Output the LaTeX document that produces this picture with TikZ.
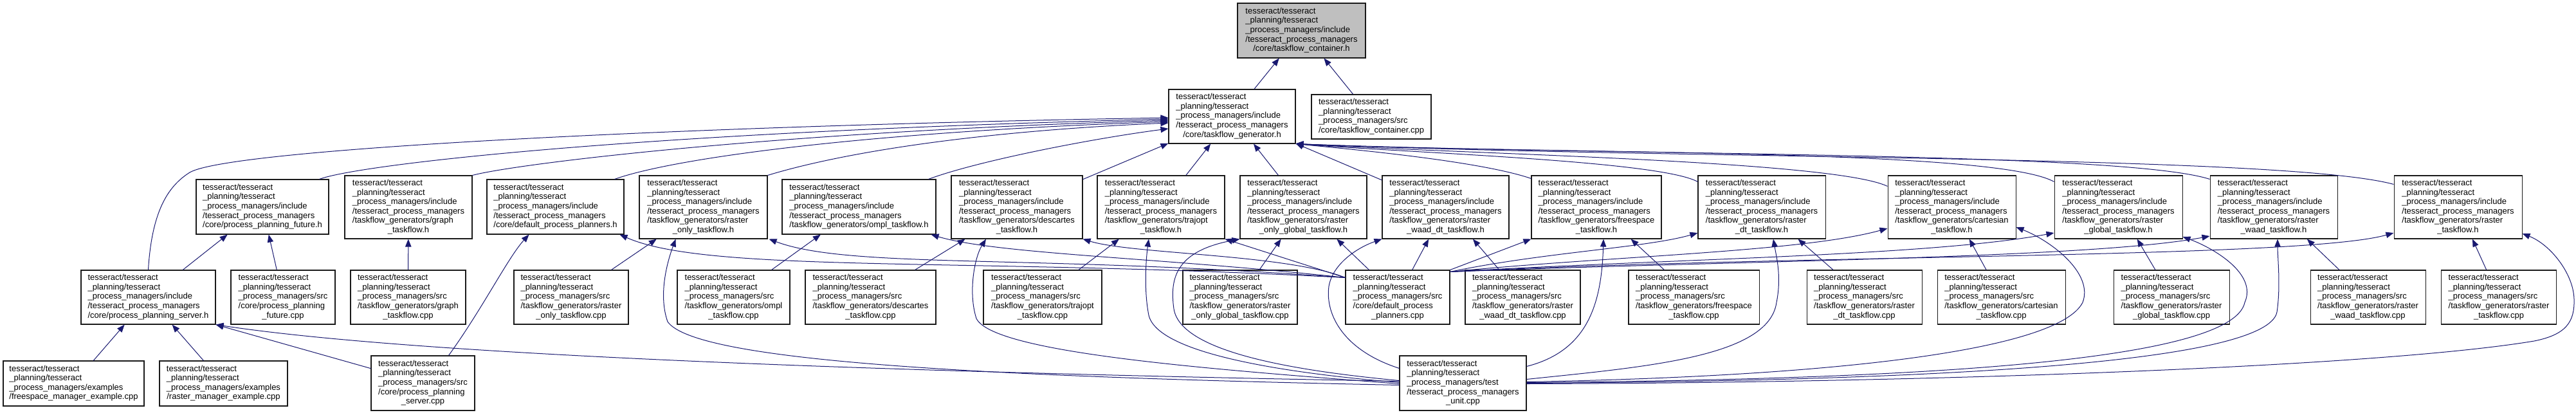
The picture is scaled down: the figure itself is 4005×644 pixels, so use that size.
\documentclass[tikz,border=0pt]{standalone}
\usepackage{fontspec}
\setmainfont{Liberation Sans}
\usetikzlibrary{arrows.meta,calc}
\definecolor{edgeblue}{HTML}{191970}
\definecolor{rootgray}{HTML}{BFBFBF}
\definecolor{boxline}{HTML}{1A1A1A}
\newcommand{\dxl}[2]{\begin{tabular}{@{}l@{}}#1\\\multicolumn{1}{@{}c@{}}{#2}\end{tabular}}
\newcommand{\dxinc}{tesseract/tesseract\\\_planning/tesseract\\\_process\_managers/include\\/tesseract\_process\_managers}
\newcommand{\dxsrc}{tesseract/tesseract\\\_planning/tesseract\\\_process\_managers/src}
\tikzset{
  dbox/.style={draw=boxline,line width=0.8pt,fill=white,inner sep=0pt,
    font={\fontsize{9.75pt}{10.95pt}\selectfont}},
  wh/.style 2 args={minimum width=#1*0.75pt,minimum height=#2*0.75pt},
  dep/.style={draw=edgeblue,line width=0.75pt,-{Triangle[length=9pt,width=7pt]}}
}
\begin{document}
\begin{tikzpicture}[x=0.75pt,y=-0.75pt]
\useasboundingbox (0,0) rectangle (4005,644);
% row 0 / 1
\node[dbox,fill=rootgray,wh={199}{85}] (root) at (2023.5,47.5) {\dxl{\dxinc}{/core/taskflow\_container.h}};
\node[dbox,wh={197}{84}] (tfg) at (1915.5,181) {\dxl{\dxinc}{/core/taskflow\_generator.h}};
\node[dbox,wh={186}{69}] (tfc) at (2132,181.5) {\dxl{\dxsrc}{/core/taskflow\_container.cpp}};
% row 2
\node[dbox,wh={206}{85}] (ppfh) at (408,321.5) {\dxl{\dxinc}{/core/process\_planning\_future.h}};
\node[dbox,wh={198}{98}] (graphh) at (635,322) {\dxl{\dxinc\\/taskflow\_generators/graph}{\_taskflow.h}};
\node[dbox,wh={213}{85}] (dpph) at (863.5,321.5) {\dxl{\dxinc}{/core/default\_process\_planners.h}};
\node[dbox,wh={199}{98}] (roh) at (1093.5,322) {\dxl{\dxinc\\/taskflow\_generators/raster}{\_only\_taskflow.h}};
\node[dbox,wh={239}{85}] (omplh) at (1335.5,321.5) {\dxl{\dxinc}{/taskflow\_generators/ompl\_taskflow.h}};
\node[dbox,wh={204}{98}] (desh) at (1581,322) {\dxl{\dxinc\\/taskflow\_generators/descartes}{\_taskflow.h}};
\node[dbox,wh={198}{98}] (trajh) at (1805,322) {\dxl{\dxinc\\/taskflow\_generators/trajopt}{\_taskflow.h}};
\node[dbox,wh={197}{98}] (rogh) at (2026.5,322) {\dxl{\dxinc\\/taskflow\_generators/raster}{\_only\_global\_taskflow.h}};
\node[dbox,wh={197}{98}] (rwdh) at (2247.5,322) {\dxl{\dxinc\\/taskflow\_generators/raster}{\_waad\_dt\_taskflow.h}};
\node[dbox,wh={202}{98}] (fsh) at (2482,322) {\dxl{\dxinc\\/taskflow\_generators/freespace}{\_taskflow.h}};
\node[dbox,wh={198}{98}] (rdth) at (2739,322) {\dxl{\dxinc\\/taskflow\_generators/raster}{\_dt\_taskflow.h}};
\node[dbox,wh={199}{98}] (carth) at (3034.5,322) {\dxl{\dxinc\\/taskflow\_generators/cartesian}{\_taskflow.h}};
\node[dbox,wh={199}{98}] (rgh) at (3293.5,322) {\dxl{\dxinc\\/taskflow\_generators/raster}{\_global\_taskflow.h}};
\node[dbox,wh={198}{98}] (rwh) at (3535,322) {\dxl{\dxinc\\/taskflow\_generators/raster}{\_waad\_taskflow.h}};
\node[dbox,wh={199}{98}] (rth) at (3821.5,322) {\dxl{\dxinc\\/taskflow\_generators/raster}{\_taskflow.h}};
% row 3
\node[dbox,wh={209}{84}] (ppsh) at (230.5,462) {\dxl{\dxinc}{/core/process\_planning\_server.h}};
\node[dbox,wh={162}{84}] (ppfc) at (440,462) {\dxl{\dxsrc\\/core/process\_planning}{\_future.cpp}};
\node[dbox,wh={179}{84}] (graphc) at (634.5,462) {\dxl{\dxsrc\\/taskflow\_generators/graph}{\_taskflow.cpp}};
\node[dbox,wh={178}{84}] (roc) at (888,462) {\dxl{\dxsrc\\/taskflow\_generators/raster}{\_only\_taskflow.cpp}};
\node[dbox,wh={175}{84}] (omplc) at (1140.5,462) {\dxl{\dxsrc\\/taskflow\_generators/ompl}{\_taskflow.cpp}};
\node[dbox,wh={203}{84}] (desc) at (1353.5,462) {\dxl{\dxsrc\\/taskflow\_generators/descartes}{\_taskflow.cpp}};
\node[dbox,wh={184}{84}] (trajc) at (1621,462) {\dxl{\dxsrc\\/taskflow\_generators/trajopt}{\_taskflow.cpp}};
\node[dbox,wh={178}{84}] (rogc) at (1928,462) {\dxl{\dxsrc\\/taskflow\_generators/raster}{\_only\_global\_taskflow.cpp}};
\node[dbox,wh={162}{84}] (dppc) at (2173,462) {\dxl{\dxsrc\\/core/default\_process}{\_planners.cpp}};
\node[dbox,wh={179}{84}] (rwdc) at (2367.5,462) {\dxl{\dxsrc\\/taskflow\_generators/raster}{\_waad\_dt\_taskflow.cpp}};
\node[dbox,wh={203}{84}] (fsc) at (2633.5,462) {\dxl{\dxsrc\\/taskflow\_generators/freespace}{\_taskflow.cpp}};
\node[dbox,wh={179}{84}] (rdtc) at (2898.5,462) {\dxl{\dxsrc\\/taskflow\_generators/raster}{\_dt\_taskflow.cpp}};
\node[dbox,wh={199}{84}] (cartc) at (3111.5,462) {\dxl{\dxsrc\\/taskflow\_generators/cartesian}{\_taskflow.cpp}};
\node[dbox,wh={180}{84}] (rgc) at (3376,462) {\dxl{\dxsrc\\/taskflow\_generators/raster}{\_global\_taskflow.cpp}};
\node[dbox,wh={179}{84}] (rwc) at (3681.5,462) {\dxl{\dxsrc\\/taskflow\_generators/raster}{\_waad\_taskflow.cpp}};
\node[dbox,wh={179}{84}] (rtc) at (3885,462) {\dxl{\dxsrc\\/taskflow\_generators/raster}{\_taskflow.cpp}};
% row 4
\node[dbox,wh={219}{70}] (fsex) at (114.5,596) {\dxl{tesseract/tesseract\\\_planning/tesseract\\\_process\_managers/examples}{/freespace\_manager\_example.cpp}};
\node[dbox,wh={199}{70}] (rex) at (347.5,596) {\dxl{tesseract/tesseract\\\_planning/tesseract\\\_process\_managers/examples}{/raster\_manager\_example.cpp}};
\node[dbox,wh={161}{85}] (ppsc) at (657.5,595.5) {\dxl{\dxsrc\\/core/process\_planning}{\_server.cpp}};
\node[dbox,wh={197}{85}] (unit) at (2274.5,595.5) {\dxl{tesseract/tesseract\\\_planning/tesseract\\\_process\_managers/test\\/tesseract\_process\_managers}{\_unit.cpp}};
% ---------- edges ----------
\draw[dep] (tfg) -- (root);
\draw[dep] (tfc) -- (root);
% into taskflow_generator, left side
\draw[dep] (ppsh.north) .. controls (236,330) and (260,290) .. (295,268) .. controls (360,230) and (1100,195) .. ($(tfg.west)+(0,2)$);
\draw[dep] ($(ppfh.north east)+(-15,0)$) .. controls (560,255) and (1000,205) .. ($(tfg.west)+(0,4)$);
\draw[dep] (graphh.north east) .. controls (800,255) and (1200,205) .. ($(tfg.west)+(0,6)$);
\draw[dep] ($(dpph.north east)+(-15,0)$) .. controls (1050,245) and (1350,205) .. ($(tfg.west)+(0,8)$);
\draw[dep] (roh.north east) .. controls (1300,240) and (1500,205) .. ($(tfg.west)+(0,10)$);
\draw[dep] ($(omplh.north east)+(-12,0)$) .. controls (1520,250) and (1700,215) .. ($(tfg.west)+(0,19)$);
\draw[dep] (desh) -- (tfg);
\draw[dep] (trajh) -- (tfg);
\draw[dep] (rogh) -- (tfg);
\draw[dep] (rwdh) -- (tfg);
% into taskflow_generator, right side
\draw[dep] ($(fsh.north west)+(0,5)$) .. controls (2300,250) and (2100,232) .. (tfg.south east);
\draw[dep] ($(rdth.north west)+(0,10)$) .. controls (2580,250) and (2200,238) .. (tfg.south east);
\draw[dep] ($(carth.north west)+(0,17)$) .. controls (2850,250) and (2300,240) .. (tfg.south east);
\draw[dep] ($(rgh.north west)+(0,10)$) .. controls (3100,230) and (2400,240) .. (tfg.south east);
\draw[dep] ($(rwh.north west)+(0,6)$) .. controls (3300,235) and (2500,242) .. (tfg.south east);
\draw[dep] ($(rth.north west)+(0,14)$) .. controls (3550,240) and (2600,248) .. (tfg.south east);
% row 3 -> row 2
\draw[dep] (ppfc) -- (ppfh);
\draw[dep] (ppsh) -- (ppfh);
\draw[dep] (graphc) -- (graphh);
\draw[dep] (roc) -- (roh);
\draw[dep] (omplc) -- (omplh);
\draw[dep] (desc) -- (desh);
\draw[dep] (trajc) -- (trajh);
\draw[dep] (rogc) -- (rogh);
\draw[dep] (rwdc) -- (rwdh);
\draw[dep] (fsc) -- (fsh);
\draw[dep] (rdtc) -- (rdth);
\draw[dep] (cartc) -- (carth);
\draw[dep] (rgc) -- (rgh);
\draw[dep] (rwc) -- (rwh);
\draw[dep] (rtc) -- (rth);
% examples / server
\draw[dep] (fsex) -- (ppsh);
\draw[dep] (rex) -- (ppsh);
\draw[dep] (ppsc) -- (ppsh.south east);
\draw[dep] ($(ppsc.north)+(40,0)$) .. controls (750,480) and (790,400) .. ($(dpph.south west)+(66,0)$);
% default_process_planners.cpp
\draw[dep] (dppc) -- (rogh);
\draw[dep] (dppc) -- (rwdh);
\draw[dep] ($(dppc.north west)+(0,12)$) -- (trajh.south east);
\draw[dep] ($(dppc.north west)+(0,12)$) .. controls (2000,395) and (1760,395) .. (desh.south east);
\draw[dep] ($(dppc.north west)+(0,12)$) .. controls (1800,400) and (1550,395) .. ($(omplh.south east)+(-8,0)$);
\draw[dep] ($(dppc.north west)+(0,12)$) .. controls (1600,395) and (1320,418) .. ($(roh.south east)+(2,0)$);
\draw[dep] ($(dppc.north west)+(0,12)$) .. controls (1500,400) and (1100,425) .. ($(dpph.south east)+(-7,0)$);
\draw[dep] (dppc.north east) -- (fsh.south west);
\draw[dep] ($(dppc.north east)+(0,3)$) .. controls (2400,392) and (2560,385) .. ($(rdth.west)+(0,40)$);
\draw[dep] ($(dppc.north east)+(0,3)$) .. controls (2500,398) and (2800,392) .. ($(carth.west)+(0,33)$);
\draw[dep] ($(dppc.north east)+(0,3)$) .. controls (2600,402) and (3000,398) .. ($(rgh.west)+(0,40)$);
\draw[dep] ($(dppc.north east)+(0,3)$) .. controls (2700,405) and (3250,402) .. ($(rwh.west)+(0,45)$);
\draw[dep] ($(dppc.north east)+(0,3)$) .. controls (2800,395) and (3580,402) .. ($(rth.west)+(0,40)$);
% unit.cpp, left side
\draw[dep] ($(unit.west)+(0,-3)$) .. controls (1200,575) and (600,545) .. (ppsh.south east);
\draw[dep] ($(unit.west)+(0,3)$) .. controls (1500,585) and (1080,560) .. (1038,500) .. controls (1022,455) and (1040,400) .. ($(roh.south)+(-43,0)$);
\draw[dep] ($(unit.west)+(0,1)$) .. controls (1900,575) and (1545,550) .. (1518,495) .. controls (1505,455) and (1515,400) .. ($(desh.south)+(-48,0)$);
\draw[dep] ($(unit.west)+(0,-1)$) .. controls (2000,580) and (1800,550) .. (1786,490) .. controls (1778,450) and (1782,400) .. ($(trajh.south)+(-19,0)$);
\draw[dep] ($(unit.west)+(0,-4)$) .. controls (2000,575) and (1835,545) .. (1825,480) .. controls (1818,430) and (1830,390) .. (rogh.south west);
\draw[dep] ($(unit.north west)+(0,20)$) .. controls (2090,545) and (2060,490) .. (2066,445) .. controls (2072,410) and (2110,385) .. (rwdh.south west);
% unit.cpp, right side
\draw[dep] ($(unit.north east)+(0,17)$) .. controls (2470,545) and (2490,470) .. ($(fsh.south)+(11,0)$);
\draw[dep] ($(unit.east)+(0,-6)$) .. controls (2560,570) and (2750,555) .. (2762,470) .. controls (2770,430) and (2762,400) .. ($(rdth.south)+(18,0)$);
\draw[dep] ($(unit.east)+(0,-2)$) .. controls (2850,585) and (3200,545) .. (3238,470) .. controls (3255,425) and (3190,375) .. ($(carth.east)+(0,31)$);
\draw[dep] ($(unit.east)+(0,-1)$) .. controls (2950,590) and (3470,565) .. (3490,470) .. controls (3510,425) and (3440,385) .. ($(rgh.east)+(0,46)$);
\draw[dep] (unit.east) .. controls (3000,592) and (3525,565) .. (3540,485) .. controls (3546,445) and (3541,400) .. ($(rwh.south)+(6,0)$);
\draw[dep] ($(unit.east)+(0,1)$) .. controls (3000,595) and (3700,570) .. (3940,530) .. controls (3990,520) and (4003,500) .. (4002,465) .. controls (4001,425) and (3965,380) .. ($(rth.east)+(0,41)$);
\end{tikzpicture}
\end{document}
